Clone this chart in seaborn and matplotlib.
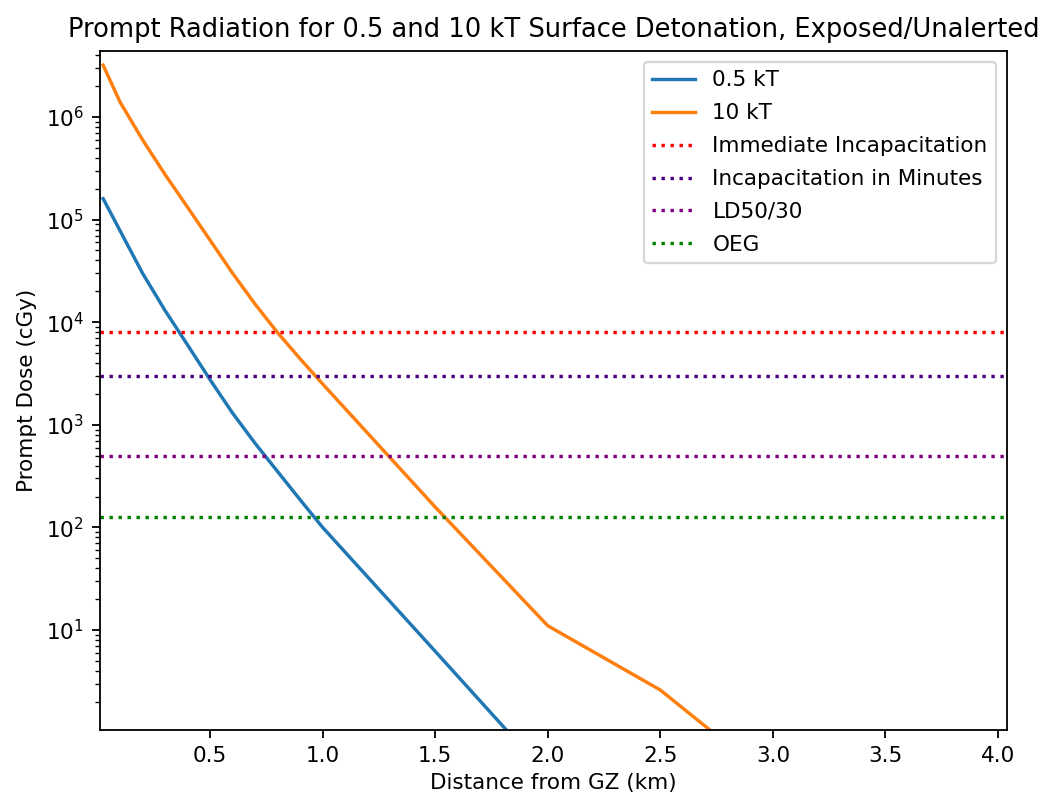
import numpy as np
import pandas as pd
import matplotlib
matplotlib.use("Agg")
import matplotlib.pyplot as plt
import seaborn as sns

# Data
dist_05 = [0.025, 0.1, 0.2, 0.3, 0.4, 0.5, 0.6, 0.7, 0.8, 0.9, 1.0, 1.5, 2.0]
dose_05 = [1.6e5, 7.8e4, 3.0e4, 1.3e4, 6.0e3, 2.75e3, 1.3e3, 660, 350, 186, 100, 6.2, 0.38]

dist_10 = [0.025, 0.1, 0.2, 0.3, 0.4, 0.5, 0.6, 0.7, 0.8, 0.9, 1.0, 1.5, 2.0, 2.5, 3.0]
dose_10 = [3.2e6, 1.4e6, 6.0e5, 2.75e5, 1.32e5, 6.3e4, 3.0e4, 1.5e4, 7.9e3, 4.4e3, 2.5e3, 158, 11, 2.6, 0.34]

threshold_names = ["Immediate Incapacitation", "Incapacitation in Minutes", "LD50/30", "OEG"]
threshold_values = [8000, 3000, 500, 125]
threshold_colors = ["red", "indigo", "purple", "green"]

y_major_ticks = [1e1, 1e2, 1e3, 1e4, 1e5, 1e6]
x_ticks = [0.5, 1.0, 1.5, 2.0, 2.5, 3.0, 3.5, 4.0]

df = pd.concat([
    pd.DataFrame({"Distance": dist_05, "Dose": dose_05, "Yield": "0.5 kT"}),
    pd.DataFrame({"Distance": dist_10, "Dose": dose_10, "Yield": "10 kT"}),
])

plt.rcParams["font.size"] = 9.5
plt.rcParams["axes.titlesize"] = 11.4
plt.rcParams["axes.labelsize"] = 9.5
plt.rcParams["xtick.labelsize"] = 9.5
plt.rcParams["ytick.labelsize"] = 9.5
plt.rcParams["legend.fontsize"] = 9.5

dpi = 163
fig = plt.figure(figsize=(1041 / dpi, 797 / dpi), dpi=dpi)
ax = fig.add_axes([100 / 1041, 1 - 730 / 797, (1007 - 100) / 1041, (730 - 51) / 797])

sns.lineplot(data=df, x="Distance", y="Dose", hue="Yield",
             palette=["tab:blue", "tab:orange"], ax=ax, legend=False)
ax.lines[0].set_label("0.5 kT")
ax.lines[1].set_label("10 kT")

for name, val, col in zip(threshold_names, threshold_values, threshold_colors):
    ax.axhline(val, linestyle=":", color=col, label=name)

ax.set_yscale("log")
ax.set_xlim(0.011, 4.04)
ax.set_ylim(1.06, 4.4e6)
ax.set_yticks(y_major_ticks)
ax.set_xticks(x_ticks)
ax.set_xlabel("Distance from GZ (km)", labelpad=3)
ax.set_ylabel("Prompt Dose (cGy)")
ax.set_title("Prompt Radiation for 0.5 and 10 kT Surface Detonation, Exposed/Unalerted")
ax.legend(loc="upper right", labelspacing=0.6)

fig.savefig("out.png", dpi=dpi)
